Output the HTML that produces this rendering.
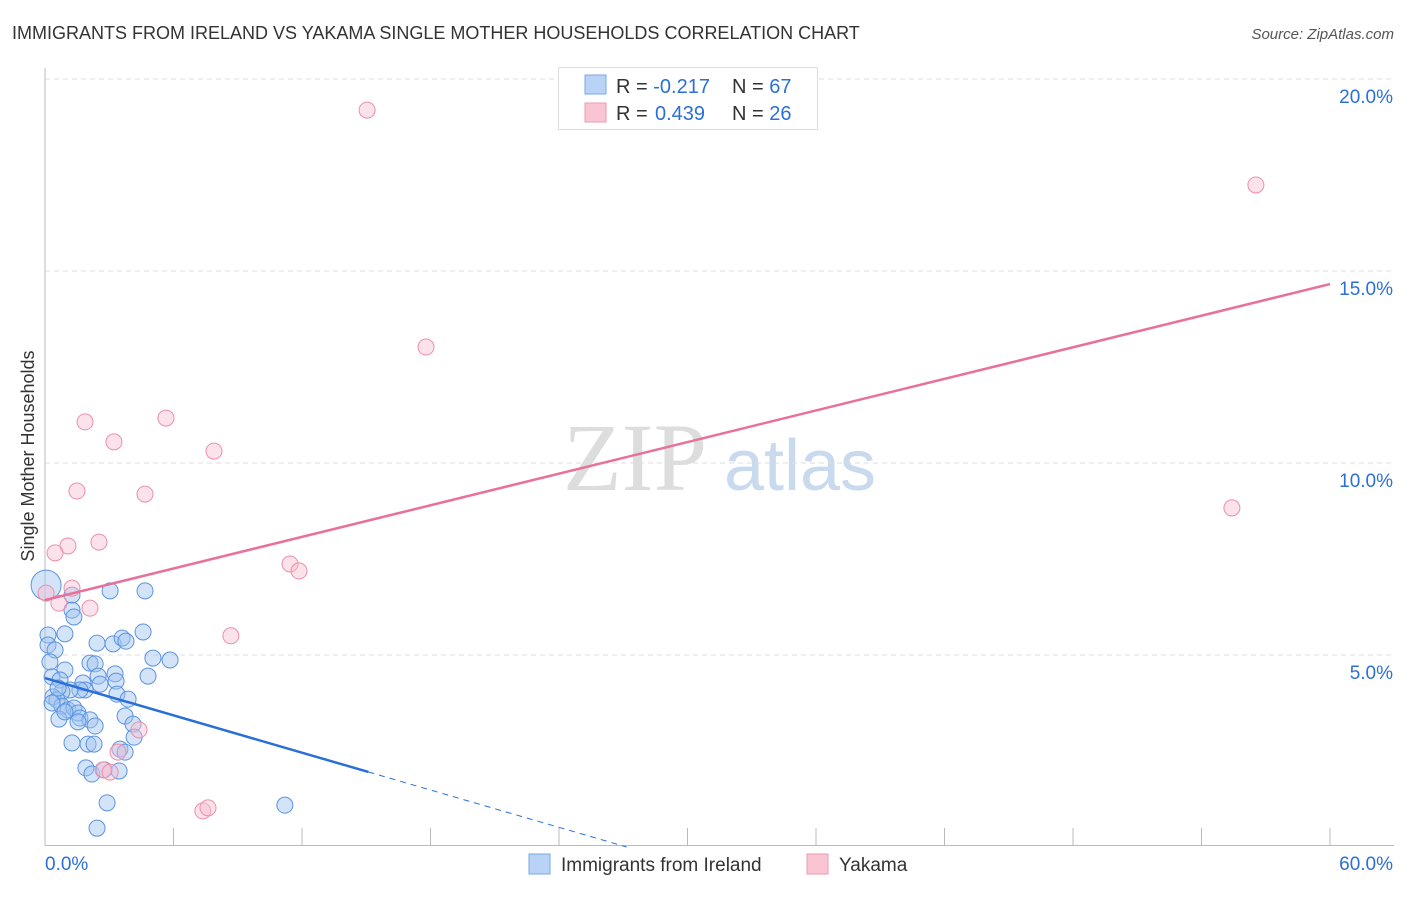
<!DOCTYPE html>
<html><head><meta charset="utf-8"><style>
body{margin:0;background:#fff;font-family:"Liberation Sans",sans-serif;}
</style></head><body>
<svg id="chart" width="1406" height="892" xmlns="http://www.w3.org/2000/svg" font-family="Liberation Sans, sans-serif">
<text x="12" y="39" font-size="18" fill="#333">IMMIGRANTS FROM IRELAND VS YAKAMA SINGLE MOTHER HOUSEHOLDS CORRELATION CHART</text>
<text x="1394" y="39" font-size="15" fill="#555" font-style="italic" text-anchor="end">Source: ZipAtlas.com</text>
<text transform="translate(34,456) rotate(-90)" font-size="18" fill="#333" text-anchor="middle">Single Mother Households</text>
<g><text x="635" y="490" font-size="96" font-family="Liberation Serif, serif" fill="#ddd" text-anchor="middle">ZIP</text><text x="800" y="490" font-size="72" fill="#c9d9ee" text-anchor="middle">atlas</text></g>
<g id="grid"></g><g id="axes"></g><g id="marks"></g>
<g>
<rect x="558.5" y="67.5" width="259" height="62" fill="#fff" stroke="#ddd"/>
<rect x="585" y="75" width="21" height="19" fill="#b8d3f5" stroke="#7aa9e6"/>
<rect x="585" y="103" width="21" height="19" fill="#f9c5d3" stroke="#ee9ab2"/>
<text x="616" y="93" font-size="20" fill="#333">R = <tspan fill="#2c6fd6">-0.217</tspan><tspan x="732">N = </tspan><tspan fill="#2c6fd6">67</tspan></text>
<text x="616" y="120" font-size="20" fill="#333">R = <tspan fill="#2c6fd6" x="655">0.439</tspan><tspan x="732">N = </tspan><tspan fill="#2c6fd6">26</tspan></text>
</g>
<g>
<rect x="529" y="854" width="21" height="20" fill="#b8d3f5" stroke="#7aa9e6"/>
<text x="561" y="871" font-size="19" fill="#333">Immigrants from Ireland</text>
<rect x="807" y="854" width="21" height="20" fill="#f9c5d3" stroke="#ee9ab2"/>
<text x="839" y="871" font-size="19" fill="#333">Yakama</text>
</g>
<script>
const yTicks=[5,10,15,20];
const yTickLabels=["5.0%","10.0%","15.0%","20.0%"];
const xEndLabels=["0.0%","60.0%"];
const blueX=[0.05,0.14,0.14,0.47,0.23,0.93,0.33,0.7,1.26,1.26,1.35,0.93,3.04,4.67,2.43,3.18,3.6,3.78,4.58,5.04,5.84,4.81,2.1,2.34,2.48,3.27,3.32,3.36,3.88,1.77,1.87,1.63,1.17,0.79,0.37,0.56,0.79,1.07,1.35,1.54,1.63,2.1,1.54,0.65,2.34,3.74,4.11,4.16,1.26,2.01,2.29,3.5,3.74,1.91,2.19,2.76,3.46,2.9,2.43,11.2,0.61,0.33,0.93,2.57];
const blueY=[6.82,5.52,5.26,5.13,4.82,4.61,4.43,4.35,6.56,6.17,5.99,5.55,6.67,6.67,5.31,5.29,5.44,5.36,5.6,4.92,4.87,4.45,4.79,4.77,4.45,4.51,4.32,3.98,3.85,4.27,4.09,4.09,4.09,4.04,3.91,3.83,3.67,3.57,3.62,3.49,3.36,3.31,3.26,3.33,3.15,3.41,3.2,2.86,2.71,2.68,2.68,2.55,2.47,2.06,1.9,2.01,1.98,1.15,0.49,1.09,4.14,3.75,3.52,4.24];
const pinkX=[15.04,56.54,17.79,1.87,5.65,3.22,7.89,1.49,4.67,55.42,1.07,2.52,0.47,11.44,11.86,0.05,1.26,0.65,2.1,8.68,4.39,3.41,2.71,3.04,7.37,7.61];
const pinkY=[19.19,17.24,13.02,11.07,11.17,10.55,10.31,9.27,9.19,8.83,7.84,7.94,7.66,7.37,7.19,6.61,6.74,6.35,6.22,5.5,3.05,2.47,2.01,1.95,0.94,1.02];
const pinkTrend=[6.43,14.66];
const blueTrend=[4.4,-0.162];
const NS="http://www.w3.org/2000/svg";
const X=v=>45+v/60*1285, Y=v=>847-v/5*192;
function mk(tag,attrs,parent){const e=document.createElementNS(NS,tag);for(const k in attrs)e.setAttribute(k,attrs[k]);document.getElementById(parent).appendChild(e);return e;}
yTicks.forEach((t,i)=>{
 const g=mk('line',{x1:45,x2:1394,y1:Y(t),y2:Y(t),stroke:'#ddd','stroke-dasharray':'5,4'},'grid');
 
 
 const l=mk('text',{x:1393,y:Y(t)+24,'font-size':19,fill:'#2c6fd6','text-anchor':'end'},'axes');
 l.textContent=yTickLabels[i];
 
 
});
const ax=mk('line',{x1:45,x2:45,y1:68,y2:846,stroke:'#bbb'},'axes');


const bx=mk('line',{x1:45,x2:1394,y1:845.5,y2:845.5,stroke:'#bbb'},'axes');


for(let i=1;i<=10;i++){const t=mk('line',{x1:X(i*6),x2:X(i*6),y1:828,y2:845,stroke:'#bbb'},'axes');
 
 }
const xl0=mk('text',{x:45,y:870,'font-size':19,fill:'#2c6fd6'},'axes');xl0.textContent=xEndLabels[0];


const xl1=mk('text',{x:1393,y:870,'font-size':19,fill:'#2c6fd6','text-anchor':'end'},'axes');xl1.textContent=xEndLabels[1];


blueX.forEach((x,i)=>{const c=mk('circle',{cx:X(x),cy:Y(blueY[i]),r:i==0?15:8,fill:'rgba(160,196,240,0.45)',stroke:'#5b93e0','stroke-width':1},'marks');
 
 });
pinkX.forEach((x,i)=>{const c=mk('circle',{cx:X(x),cy:Y(pinkY[i]),r:8,fill:'rgba(248,190,208,0.45)',stroke:'#ec8fab','stroke-width':1},'marks');
 
 });
const pl=mk('line',{x1:X(0),y1:Y(pinkTrend[0]),x2:X(60),y2:Y(pinkTrend[1]),stroke:'#e8709a','stroke-width':2.5},'marks');


const bEnd=15.1, bZero=-blueTrend[0]/blueTrend[1];
const bl=mk('line',{x1:X(0),y1:Y(blueTrend[0]),x2:X(bEnd),y2:Y(blueTrend[0]+blueTrend[1]*bEnd),stroke:'#2a6fd8','stroke-width':2.5},'marks');


const bd=mk('line',{x1:X(bEnd),y1:Y(blueTrend[0]+blueTrend[1]*bEnd),x2:X(bZero),y2:Y(0),stroke:'#2a6fd8','stroke-width':1,'stroke-dasharray':'6,5'},'marks');


</script>
</svg>
</body></html>
